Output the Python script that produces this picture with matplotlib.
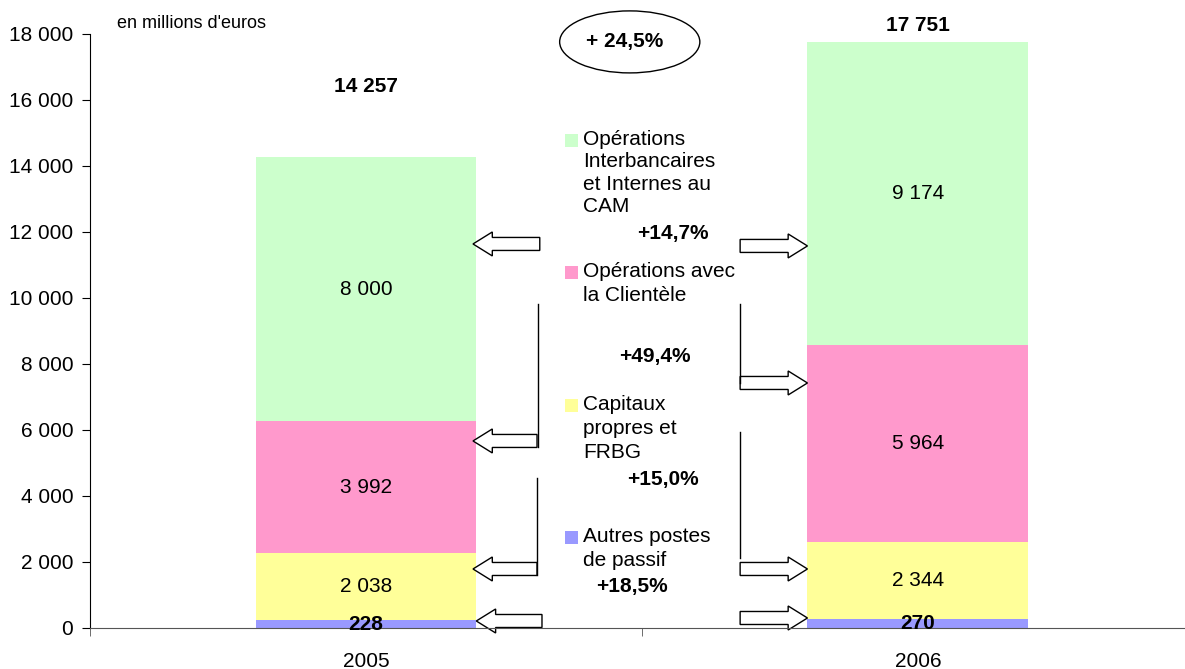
import matplotlib
matplotlib.use("Agg")
import matplotlib.pyplot as plt
from matplotlib.patches import Ellipse, FancyArrow, Rectangle
import numpy as np

plt.rcParams['font.family'] = ['Liberation Sans', 'DejaVu Sans']

# Données (en millions d'euros)
annees = ["2005", "2006"]
series = ["Autres postes\nde passif",
          "Capitaux\npropres et\nFRBG",
          "Opérations avec\nla Clientèle",
          "Opérations\nInterbancaires\net Internes au\nCAM"]
autres = [228, 270]
capitaux = [2038, 2344]
clientele = [3992, 5964]
interbancaires = [8000, 9174]
totaux = [14257, 17751]
variations = ["+18,5%", "+15,0%", "+49,4%", "+14,7%"]
variation_totale = "+ 24,5%"
couleurs = ["#9999FF", "#FFFF99", "#FF99CC", "#CCFFCC"]

FS = 15


def fmt(v):
    return f"{v:,}".replace(",", " ")


fig = plt.figure(figsize=(11.85, 6.69), dpi=100)
ax = fig.add_axes([0.0759, 0.0613, 0.9241, 0.888])

x = np.arange(len(annees))
largeur = 0.40
valeurs = [autres, capitaux, clientele, interbancaires]
bas = np.zeros(len(annees))
for vals, coul in zip(valeurs, couleurs):
    ax.bar(x, vals, largeur, bottom=bas, color=coul, edgecolor='none', zorder=2)
    for i, v in enumerate(vals):
        petit = v < 1000
        ax.text(x[i], bas[i] + v / 2, fmt(v), ha='center', va='center',
                fontsize=FS, fontweight='bold' if petit else 'normal', zorder=7)
    bas += np.array(vals)

# totaux
ax.text(x[0], 16394, fmt(totaux[0]), ha='center', va='center', fontsize=FS, fontweight='bold')
ax.text(x[1], 18250, fmt(totaux[1]), ha='center', va='center', fontsize=FS, fontweight='bold')

# axes
ax.set_xlim(-0.5, 1.484)
ax.set_ylim(0, 18000)
ax.set_yticks(np.arange(0, 18001, 2000))
ax.set_yticklabels([fmt(v) for v in range(0, 18001, 2000)], fontsize=FS)
ax.set_xticks(x)
ax.set_xticklabels(annees, fontsize=FS)
ax.set_xticks([-0.5, 0.5], minor=True)
ax.tick_params(axis='x', which='major', length=0, pad=17)
ax.tick_params(axis='x', which='minor', length=6, direction='out', color='#555555')
ax.tick_params(axis='y', length=6, direction='out', pad=6)
for s in ['top', 'right']:
    ax.spines[s].set_visible(False)
ax.spines['left'].set_color('black')
ax.spines['bottom'].set_color('#555555')
ax.spines['left'].set_zorder(6)
ax.spines['bottom'].set_zorder(6)

fig.text(117 / 1185, 1 - 23 / 669, "en millions d'euros", fontsize=13, va='center', ha='left')

# ellipse variation totale
ax.add_patch(Ellipse((0.478, 17758), 0.254, 1879, fc='white', ec='black', lw=1,
                     clip_on=False, zorder=4))
ax.text(0.469, 17758, variation_totale, ha='center', va='center', fontsize=FS,
        fontweight='bold', zorder=5)

# légende manuelle
leg_y = [[2758, 2030], [6758, 6030, 5303], [10788, 10061],
         [14788, 14121, 13424, 12758]]
for k in [3, 2, 1, 0]:
    lignes = series[k].split("\n")
    ys = leg_y[k]
    ax.add_patch(Rectangle((0.360, ys[0] - 200), 0.0235, 394, fc=couleurs[k], ec='none',
                           clip_on=False, zorder=4))
    for lg, yy in zip(lignes, ys):
        ax.text(0.393, yy, lg, ha='left', va='center', fontsize=FS)

var_pos = [(0.482, 1242), (0.538, 4485), (0.524, 8212), (0.556, 11939)]
for k, (vx, vy) in enumerate(var_pos):
    ax.text(vx, vy, variations[k], ha='center', va='center', fontsize=FS, fontweight='bold')

# flèches
def fleche(x0, x1, y):
    ax.add_patch(FancyArrow(x0, y, x1 - x0, 0, width=394, head_width=727,
                            head_length=0.035, length_includes_head=True,
                            fc='white', ec='black', lw=1, zorder=4, clip_on=False))

fleche(0.315, 0.194, 11636)
fleche(0.310, 0.194, 5667)
fleche(0.310, 0.194, 1788)
fleche(0.319, 0.200, 212)
fleche(0.678, 0.800, 11576)
fleche(0.678, 0.800, 7424)
fleche(0.678, 0.800, 1788)
fleche(0.678, 0.800, 303)

# traits verticaux
ax.plot([0.311, 0.311], [9818, 5470], color='black', lw=1, zorder=4)
ax.plot([0.310, 0.310], [4545, 1600], color='black', lw=1, zorder=4)
ax.plot([0.678, 0.678], [9818, 7424], color='black', lw=1, zorder=4)
ax.plot([0.678, 0.678], [5939, 2121], color='black', lw=1, zorder=4)

fig.savefig("out.png", dpi=100)
